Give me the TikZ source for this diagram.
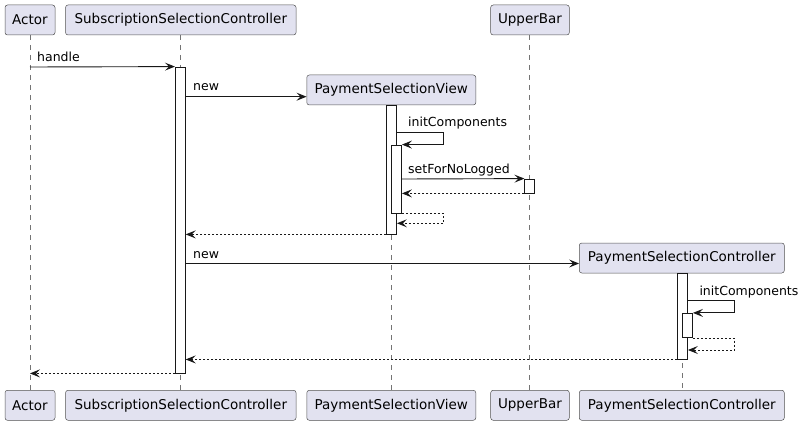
\documentclass[tikz,border=0pt]{standalone}
\usepackage{fontspec}
\setmainfont{DejaVu Sans}
\usetikzlibrary{arrows.meta}
\definecolor{pfill}{HTML}{E2E2F0}
\definecolor{pline}{HTML}{181818}
\tikzset{
  part/.style={draw=pline!75, line width=0.5pt, fill=pfill, rounded corners=2.5pt, minimum height=30pt, inner sep=0pt, font=\fontsize{13.5pt}{15pt}\selectfont},
  life/.style={draw=pline!60, line width=0.5pt, dash pattern=on 5pt off 5pt},
  act/.style={draw=pline, line width=0.8pt, fill=white, minimum width=10pt, inner sep=0pt},
  msg/.style={draw=pline, line width=0.9pt, -{Stealth[length=10pt,width=8pt,inset=4pt]}},
  ret/.style={msg, dash pattern=on 2pt off 2pt},
  lbl/.style={anchor=base west, inner sep=0pt, font=\fontsize{12.5pt}{14pt}\selectfont}
}
\begin{document}
\begin{tikzpicture}[x=1pt,y=-1pt]
\useasboundingbox (0,0) rectangle (806,425);
% participants (top)
\node[part, minimum width=50pt] (aT) at (30,20) {Actor};
\node[part, minimum width=230.5pt] (sT) at (180.8,20) {SubscriptionSelectionController};
\node[part, minimum width=169pt] (vT) at (391.3,90) {PaymentSelectionView};
\node[part, minimum width=78.6pt] (uT) at (530,20) {UpperBar};
\node[part, minimum width=205pt] (cT) at (681.8,258) {PaymentSelectionController};
% participants (bottom)
\node[part, minimum width=50pt] (aB) at (30,405.3) {Actor};
\node[part, minimum width=230.5pt] (sB) at (180.8,405.3) {SubscriptionSelectionController};
\node[part, minimum width=169pt] (vB) at (391.3,405.3) {PaymentSelectionView};
\node[part, minimum width=78.6pt] (uB) at (530,405.3) {UpperBar};
\node[part, minimum width=205pt] (cB) at (681.8,405.3) {PaymentSelectionController};
% lifelines
\coordinate (aL1) at (30,35); \coordinate (aL2) at (30,390.3);
\coordinate (sL1) at (180.3,35); \coordinate (sL2) at (180.3,390.3);
\coordinate (vL1) at (391.5,105); \coordinate (vL2) at (391.5,390.3);
\coordinate (uL1) at (529.5,35); \coordinate (uL2) at (529.5,390.3);
\coordinate (cL1) at (682,273); \coordinate (cL2) at (682,390.3);
\draw[life] (aL1) -- (aL2);
\draw[life] (sL1) -- (sL2);
\draw[life] (vL1) -- (vL2);
\draw[life] (uL1) -- (uL2);
\draw[life] (cL1) -- (cL2);
% activations
\node[act, minimum height=306pt] (s1) at (180.3,220) {};
\node[act, minimum height=129pt] (v1) at (391.5,169.5) {};
\node[act, minimum height=68pt] (v2) at (396.5,179) {};
\node[act, minimum height=14pt] (u1) at (529.8,186) {};
\node[act, minimum height=85.7pt] (c1) at (682.5,316.2) {};
\node[act, minimum height=24.4pt] (c2) at (687.5,325.5) {};
% helper coordinates
\coordinate (y1) at (0,67);
\coordinate (y2) at (0,96.7);
\coordinate (y3) at (0,132.3);
\coordinate (y4) at (0,179);
\coordinate (y7) at (0,223.3);
\coordinate (y9) at (0,263.5);
\coordinate (y10) at (0,300.7);
\coordinate (y12) at (0,350);
\coordinate (vx) at (443.3,0);
\coordinate (cx) at (734.3,0);
% messages
\draw[msg] (aL1 |- y1) -- (s1.north west);
\node[lbl] (m1) at (37,61.7) {handle};
\draw[msg] (s1.east |- y2) -- (vT.west |- y2);
\node[lbl] (m2) at (193,91) {new};
\draw[msg] (v1.east |- y3) -- (vx |- y3) -- (vx |- v2.north) -- (v2.north east);
\node[lbl] (m3) at (408,126.7) {initComponents};
\draw[msg] (v2.east |- y4) -- (u1.north west);
\node[lbl] (m4) at (408,173.5) {setForNoLogged};
\draw[ret] (u1.south west) -- (v2.east |- u1.south);
\draw[ret] (v2.south east) -- (vx |- v2.south) -- (vx |- y7) -- (v1.east |- y7);
\draw[ret] (v1.south west) -- (s1.east |- v1.south);
\draw[msg] (s1.east |- y9) -- (cT.west |- y9);
\node[lbl] (m5) at (193,258) {new};
\draw[msg] (c1.east |- y10) -- (cx |- y10) -- (cx |- c2.north) -- (c2.north east);
\node[lbl] (m6) at (699.3,295) {initComponents};
\draw[ret] (c2.south east) -- (cx |- c2.south) -- (cx |- y12) -- (c1.east |- y12);
\draw[ret] (c1.south west) -- (s1.east |- c1.south);
\draw[ret] (s1.south west) -- (aL1 |- s1.south);
\end{tikzpicture}
\end{document}
